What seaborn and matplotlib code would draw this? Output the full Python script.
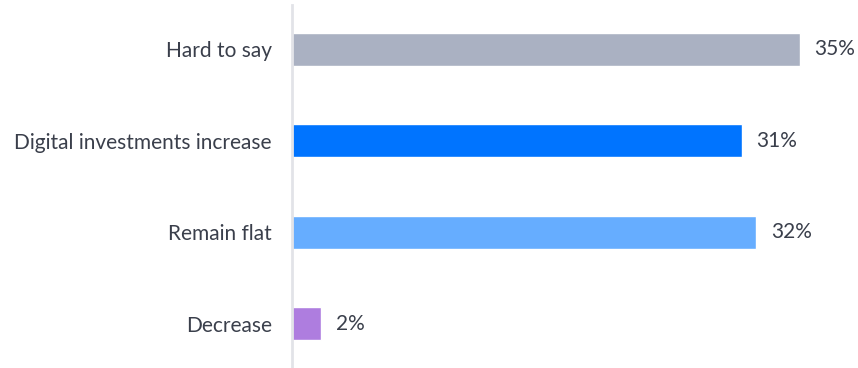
import matplotlib
matplotlib.use("Agg")
import matplotlib.pyplot as plt
import seaborn as sns
import pandas as pd

categories = ["Hard to say", "Digital investments increase", "Remain flat", "Decrease"]
values = [35, 31, 32, 2]
colors = ["#aab1c2", "#0074ff", "#66adff", "#ae7ddf"]

df = pd.DataFrame({"category": categories, "value": values})

sns.set_theme(style="white")
plt.rcParams["font.family"] = ["Lato", "DejaVu Sans"]

fig = plt.figure(figsize=(8.58, 3.68), dpi=100)
ax = fig.add_axes([292 / 858, 0.0, (858 - 292) / 858, 363 / 368])

sns.barplot(data=df, x="value", y="category", hue="category", palette=colors,
            orient="h", width=0.36, legend=False, ax=ax, saturation=1)

ax.set_xlim(0, 39.0)
ax.set_ylim(3.487, -0.487)
ax.set_xlabel("")
ax.set_ylabel("")
ax.set_xticks([])
for s in ["top", "right", "bottom"]:
    ax.spines[s].set_visible(False)
ax.spines["left"].set_color("#e2e3e8")
ax.spines["left"].set_linewidth(2)
ax.tick_params(axis="y", length=0, pad=14.4, labelsize=15, labelcolor="#3a3f4b")

for i, v in enumerate(values):
    ax.text(v + 1.0, i, f"{v}%", va="center", ha="left", fontsize=15, color="#3a3f4b")

fig.savefig("out.png", dpi=100)
